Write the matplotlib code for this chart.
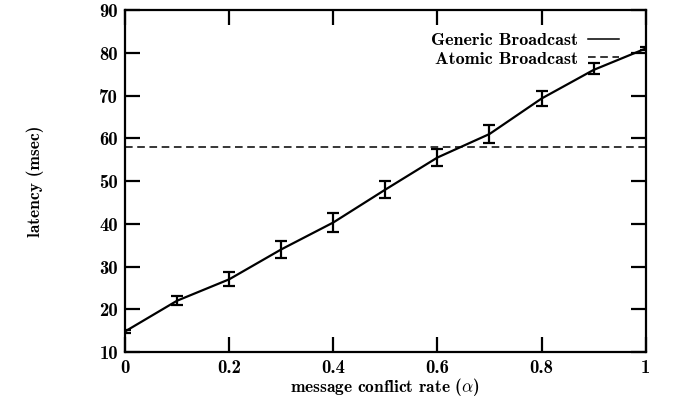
import numpy as np, matplotlib
matplotlib.use('Agg')
import matplotlib.pyplot as plt
from matplotlib.lines import Line2D

alpha = [0.0, 0.1, 0.2, 0.3, 0.4, 0.5, 0.6, 0.7, 0.8, 0.9, 1.0]
generic = [14.8, 22.0, 27.0, 34.0, 40.3, 48.0, 55.5, 61.0, 69.3, 76.0, 81.0]
err_lo = [0.3, 1.0, 1.5, 2.0, 2.2, 2.0, 2.0, 2.0, 1.8, 1.0, 0.3]
err_hi = [0.3, 1.0, 1.8, 2.0, 2.3, 2.0, 2.0, 2.0, 1.8, 1.5, 0.3]
atomic = 58.0

plt.rcParams['font.family'] = ['cmb10', 'DejaVu Serif']
plt.rcParams['mathtext.fontset'] = 'cm'
plt.rcParams['axes.formatter.use_mathtext'] = True

fig = plt.figure(figsize=(6.74, 4.03), dpi=100)
ax = fig.add_axes([0.1855, 0.1266, 0.7725, 0.8484])

ax.errorbar(alpha, generic, yerr=[err_lo, err_hi], color='black', lw=1.6,
            capsize=4, elinewidth=1.6, capthick=1.6)
ax.axhline(atomic, color='black', lw=1.1, ls=(0, (5, 3)))

ax.set_xlim(0, 1)
ax.set_ylim(10, 90)
ax.set_xticks([0, 0.2, 0.4, 0.6, 0.8, 1])
ax.set_xticklabels(['0', '0.2', '0.4', '0.6', '0.8', '1'])
ax.set_yticks(range(10, 91, 10))
ax.set_yticklabels([str(v) for v in range(10, 91, 10)])
ax.tick_params(direction='in', length=11, width=1.6, top=True, right=True,
               labelsize=13.5, pad=5)
for s in ax.spines.values():
    s.set_linewidth(1.6)

ax.set_xlabel(r'message conflict rate ($\alpha$)', fontsize=12.5, labelpad=-1)
ax.set_ylabel('latency (msec)', fontsize=12.5, labelpad=40)

handles = [Line2D([], [], color='black', lw=1.1),
           Line2D([], [], color='black', lw=1.1, ls=(0, (5, 3)))]
ax.legend(handles, ['Generic Broadcast', 'Atomic Broadcast'], loc='upper right',
          frameon=False, markerfirst=False, fontsize=13, handlelength=1.75,
          labelspacing=0.15, handletextpad=0.55, borderaxespad=0,
          bbox_to_anchor=(0.963, 0.955))

plt.savefig('out.png', dpi=100)
